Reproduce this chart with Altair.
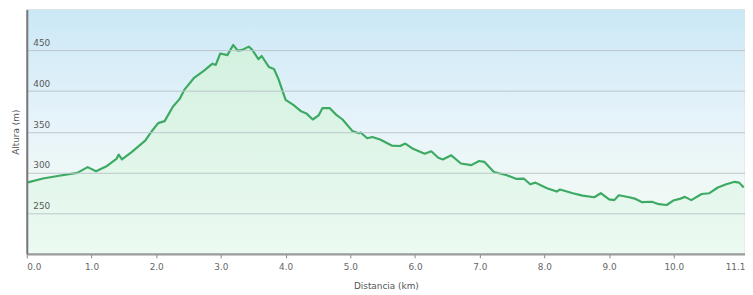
import altair as alt
import pandas as pd

# Elevation profile
distance_km = [0, 0.25, 0.5, 0.78, 0.94, 1.07, 1.24, 1.39, 1.42, 1.47, 1.62, 1.83, 1.94, 2.03,
               2.13, 2.26, 2.36, 2.44, 2.59, 2.74, 2.87, 2.92, 2.99, 3.1, 3.19, 3.26, 3.33, 3.43,
               3.48, 3.58, 3.63, 3.74, 3.82, 3.89, 4.0, 4.12, 4.24, 4.32, 4.42, 4.51, 4.57, 4.68,
               4.78, 4.88, 5.03, 5.13, 5.16, 5.26, 5.34, 5.46, 5.64, 5.77, 5.85, 5.97, 6.15, 6.25,
               6.36, 6.43, 6.56, 6.71, 6.87, 6.99, 7.07, 7.22, 7.42, 7.57, 7.68, 7.78, 7.86, 8.04,
               8.19, 8.24, 8.44, 8.59, 8.77, 8.87, 9.0, 9.08, 9.15, 9.31, 9.41, 9.51, 9.66, 9.77,
               9.89, 9.99, 10.09, 10.17, 10.27, 10.43, 10.55, 10.68, 10.81, 10.94, 11.01, 11.08]
altitude_m = [287.5, 292.5, 296, 299.5, 306.5, 301.5, 308, 317, 322, 316, 325, 339, 351.5, 360.5,
              363, 381, 390, 402, 416.5, 425, 433.5, 432, 446, 444, 456.5, 449.5, 450.5, 454.5,
              451, 439, 443, 429.5, 427, 414.5, 389, 383, 375, 372.5, 365, 370, 379, 379,
              371, 365, 351, 348, 349, 342, 343.5, 340.5, 333, 332.5, 335.5, 329, 323, 326,
              318, 316, 321, 311, 309, 314, 313, 300.5, 296.5, 292, 292.5, 285.5, 287.5, 280.5,
              276.5, 279, 274.5, 271.5, 269.5, 274.5, 267, 266, 272, 269.5, 267.5, 263.5, 264, 261,
              260, 265.5, 267.5, 270, 266, 273.5, 274.5, 281.5, 285.5, 288.5, 287.5, 281.5]

x_tick_values = [0, 1, 2, 3, 4, 5, 6, 7, 8, 9, 10, 11.1]
x_tick_labels = ["0.0", "1.0", "2.0", "3.0", "4.0", "5.0", "6.0", "7.0", "8.0", "9.0", "10.0", "11.1"]
y_tick_values = [250, 300, 350, 400, 450]
y_base = 200

W, H = 726, 247
FONT = "DejaVu Sans"

df = pd.DataFrame({"km": distance_km, "alt": altitude_m})
ydf = pd.DataFrame({"km": [0.1] * len(y_tick_values), "v": y_tick_values,
                    "label": [str(v) for v in y_tick_values]})

label_expr = "".join(f"datum.value == {v} ? '{l}' : " for v, l in zip(x_tick_values, x_tick_labels)) + "''"

xscale = alt.Scale(domain=[0, 11.1], nice=False, zero=False)
yscale = alt.Scale(domain=[200, 500], nice=False, zero=False)

x_axis = alt.Axis(title="Distancia  (km)", values=x_tick_values, labelExpr=label_expr,
                  grid=False, domainColor="#9a9a9a", domainWidth=2.5,
                  tickColor="#888", tickSize=4, tickWidth=1,
                  labelFont=FONT, labelFontSize=9, labelColor="#666", labelPadding=5,
                  labelFlush=True,
                  titleFont=FONT, titleFontSize=9, titleFontWeight="normal",
                  titleColor="#555", titlePadding=10, zindex=1)
y_axis = alt.Axis(title="Altura (m)", values=y_tick_values, labels=False, ticks=False,
                  grid=True, gridColor="#bcc6ca", gridWidth=1,
                  domainColor="#777777", domainWidth=2,
                  titleFont=FONT, titleFontSize=9, titleFontWeight="normal",
                  titleColor="#555", titlePadding=6, zindex=1)

bg = alt.Chart(pd.DataFrame({"a": [0]})).mark_rect(
    fill=alt.Gradient(
        gradient="linear", x1=0, x2=0, y1=0, y2=1,
        stops=[alt.GradientStop(color="#cbe8f6", offset=0),
               alt.GradientStop(color="#e6f3fa", offset=0.45),
               alt.GradientStop(color="#eff8f6", offset=0.7),
               alt.GradientStop(color="#eefbf3", offset=1)]
    ),
    stroke="#dde3e6", strokeWidth=1
).encode(x=alt.value(0), x2=alt.value(W), y=alt.value(0), y2=alt.value(H))

area = alt.Chart(df).mark_area(
    clip=True,
    fill=alt.Gradient(
        gradient="linear", x1=0, x2=0, y1=0, y2=1,
        stops=[alt.GradientStop(color="#d3f1df", offset=0),
               alt.GradientStop(color="#e2f6ea", offset=0.6),
               alt.GradientStop(color="#ecfaf2", offset=1)]
    ),
    opacity=1
).encode(
    x=alt.X("km:Q", scale=xscale, axis=x_axis),
    y=alt.Y("alt:Q", scale=yscale, axis=y_axis),
    y2=alt.datum(y_base),
)

line = alt.Chart(df).mark_line(color="#3daa63", strokeWidth=2.2, strokeJoin="round", clip=True).encode(
    x=alt.X("km:Q", scale=xscale, axis=x_axis),
    y=alt.Y("alt:Q", scale=yscale, axis=y_axis),
)

ylabels = alt.Chart(ydf).mark_text(
    align="left", baseline="alphabetic", dy=-4, font=FONT, fontSize=9, color="#5a5a5a"
).encode(
    x=alt.X("km:Q", scale=xscale, axis=x_axis),
    y=alt.Y("v:Q", scale=yscale, axis=y_axis),
    text="label:N",
)

chart = alt.layer(bg, area, line, ylabels).properties(
    width=W, height=H,
    autosize=alt.AutoSizeParams(type="none"),
    padding={"left": 19, "top": 0, "right": 0, "bottom": 40},
    background="white",
).configure_view(stroke=None)

chart.save("out.html", embed_options={"renderer": "svg", "actions": False})
